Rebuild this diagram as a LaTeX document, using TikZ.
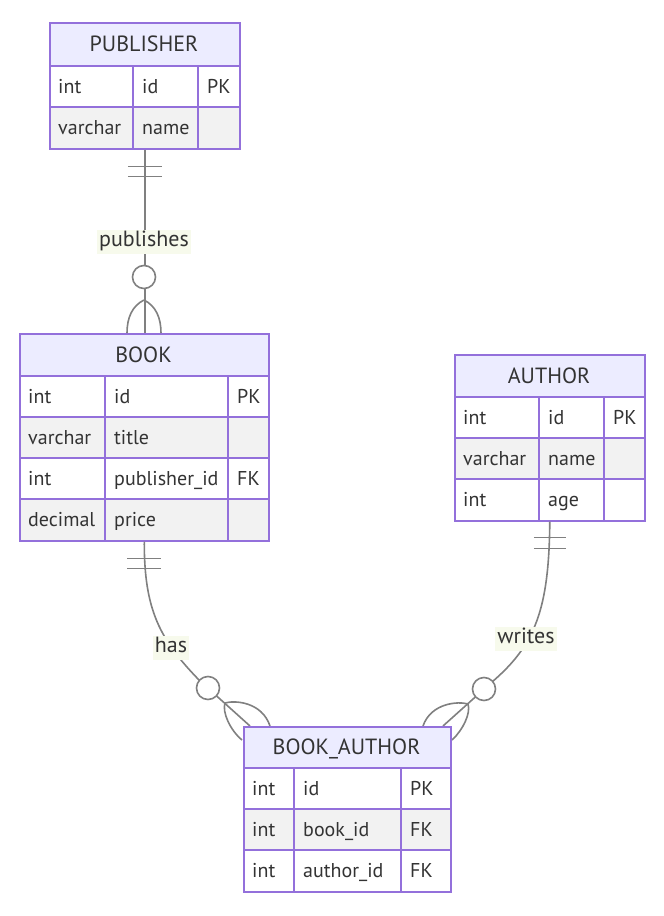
\documentclass[tikz,border=0pt]{standalone}
\usepackage{fontspec}
\setmainfont{PT Sans}
\usetikzlibrary{calc}
\definecolor{erb}{HTML}{9370DB}
\definecolor{erh}{HTML}{ECECFF}
\definecolor{erg}{HTML}{F2F2F2}
\definecolor{lnc}{HTML}{808080}
\definecolor{txt}{HTML}{333333}
\definecolor{lblbg}{RGB}{247,250,236}
\begin{document}
\begin{tikzpicture}[x=1pt,y=-1pt,
  etitle/.style={text=txt, font=\fontsize{22}{26}\selectfont, inner sep=0, anchor=base},
  attr/.style={text=txt, font=\fontsize{20}{24}\selectfont, anchor=base west, inner sep=0},
  frame/.style={draw=erb, line width=1.6pt, inner sep=0, anchor=north west},
  egrid/.style={draw=erb, line width=1.6pt},
  rel/.style={draw=lnc, line width=1.6pt},
  rlabel/.style={fill=lblbg, text=txt, font=\fontsize{22}{26}\selectfont, inner sep=2pt,
    text height=15pt, text depth=5pt, anchor=base},
  zero/.style={circle, draw=lnc, fill=white, line width=1.6pt, minimum size=23pt, inner sep=0}
]
\useasboundingbox (0,0) rectangle (664,916);
\fill[white] (0,0) rectangle (664,916);

% ---------- PUBLISHER ----------
\fill[erh] (49,22) rectangle (239,66);
\fill[white] (49,66) rectangle (239,107);
\fill[erg] (49,107) rectangle (239,148);
\draw[egrid] (49,66) -- (239,66) (49,107) -- (239,107) (133,66) -- (133,148) (198,66) -- (198,148);
\node[frame, minimum width=190pt, minimum height=126pt] (pub) at (49,22) {};
\node[etitle] (pubT) at (144,51.5) {PUBLISHER};
\node[attr] (pub11) at (58,93) {int};
\node[attr] (pub12) at (142,93) {id};
\node[attr] (pub13) at (207,93) {PK};
\node[attr] (pub21) at (58,134) {varchar};
\node[attr] (pub22) at (142,134) {name};

% ---------- BOOK ----------
\fill[erh] (19,333) rectangle (268,376);
\fill[white] (19,376) rectangle (268,417);
\fill[erg] (19,417) rectangle (268,458);
\fill[white] (19,458) rectangle (268,499);
\fill[erg] (19,499) rectangle (268,540);
\draw[egrid] (19,376) -- (268,376) (19,417) -- (268,417) (19,458) -- (268,458) (19,499) -- (268,499)
  (105,376) -- (105,540) (228,376) -- (228,540);
\node[frame, minimum width=249pt, minimum height=207pt] (book) at (19,333) {};
\node[etitle] (bookT) at (143.5,362) {BOOK};
\node[attr] (book11) at (28,403) {int};
\node[attr] (book12) at (114,403) {id};
\node[attr] (book13) at (237,403) {PK};
\node[attr] (book21) at (28,444) {varchar};
\node[attr] (book22) at (114,444) {title};
\node[attr] (book31) at (28,485) {int};
\node[attr] (book32) at (114,485) {publisher\_id};
\node[attr] (book33) at (237,485) {FK};
\node[attr] (book41) at (28,526) {decimal};
\node[attr] (book42) at (114,526) {price};

% ---------- AUTHOR ----------
\fill[erh] (454,354) rectangle (644,397);
\fill[white] (454,397) rectangle (644,438);
\fill[erg] (454,438) rectangle (644,479);
\fill[white] (454,479) rectangle (644,520);
\draw[egrid] (454,397) -- (644,397) (454,438) -- (644,438) (454,479) -- (644,479)
  (539,397) -- (539,520) (604,397) -- (604,520);
\node[frame, minimum width=190pt, minimum height=166pt] (auth) at (454,354) {};
\node[etitle] (authT) at (549,383) {AUTHOR};
\node[attr] (auth11) at (463,424) {int};
\node[attr] (auth12) at (548,424) {id};
\node[attr] (auth13) at (613,424) {PK};
\node[attr] (auth21) at (463,465) {varchar};
\node[attr] (auth22) at (548,465) {name};
\node[attr] (auth31) at (463,506) {int};
\node[attr] (auth32) at (548,506) {age};

% ---------- connectors ----------
% PUBLISHER -- BOOK
\draw[rel] (pub.south) -- (pub.south |- book.north);
\draw[rel] ($(pub.south)+(-17,17)$) -- ++(34,0) ($(pub.south)+(-17,27)$) -- ++(34,0);
\draw[rel] (144,300) .. controls (132,306) and (127,318) .. (127,333);
\draw[rel] (144,300) .. controls (156,306) and (161,318) .. (161,333);
\node[zero] (z1) at (144,277) {};
\node[rlabel] (l1) at (144,246.5) {publishes};

% BOOK_AUTHOR box coordinates (box drawn later)
\coordinate (baNW) at (243,726);
\coordinate (baNE) at (450,726);

% BOOK -- BOOK_AUTHOR
\draw[rel] (book.south) .. controls (144,610) and (160,640) .. (200,681) -- ($(baNW)+(7,0)$);
\draw[rel] ($(book.south)+(-17,17)$) -- ++(34,0) ($(book.south)+(-17,27)$) -- ++(34,0);
\draw[rel] (225,703) .. controls (235,700) and (262,702) .. (270,726);
\draw[rel] (225,703) .. controls (222,712) and (230,730) .. (242,740);
\node[zero] (z2) at (208,688) {};
\node[rlabel] (l2) at (171,652.5) {has};

% AUTHOR -- BOOK_AUTHOR
\draw[rel] (auth.south) .. controls (549,610) and (535,645) .. (492,682) -- ($(baNE)+(-7,0)$);
\draw[rel] ($(auth.south)+(-16,16)$) -- ++(32,0) ($(auth.south)+(-16,27)$) -- ++(32,0);
\draw[rel] (468,704) .. controls (458,701) and (431,703) .. (423,726);
\draw[rel] (468,704) .. controls (471,713) and (463,730) .. (452,740);
\node[zero] (z3) at (484,689) {};
\node[rlabel] (l3) at (526,643.5) {writes};

% ---------- BOOK_AUTHOR ----------
\fill[erh] (243,726) rectangle (450,768);
\fill[white] (243,768) rectangle (450,809);
\fill[erg] (243,809) rectangle (450,850);
\fill[white] (243,850) rectangle (450,891);
\draw[egrid] (243,768) -- (450,768) (243,809) -- (450,809) (243,850) -- (450,850)
  (294,768) -- (294,891) (401,768) -- (401,891);
\node[frame, minimum width=207pt, minimum height=165pt] (ba) at (baNW) {};
\node[etitle] (baT) at (346.5,754.5) {BOOK\_AUTHOR};
\node[attr] (ba11) at (252,795) {int};
\node[attr] (ba12) at (303,795) {id};
\node[attr] (ba13) at (410,795) {PK};
\node[attr] (ba21) at (252,836) {int};
\node[attr] (ba22) at (303,836) {book\_id};
\node[attr] (ba23) at (410,836) {FK};
\node[attr] (ba31) at (252,877) {int};
\node[attr] (ba32) at (303,877) {author\_id};
\node[attr] (ba33) at (410,877) {FK};
\end{tikzpicture}
\end{document}
